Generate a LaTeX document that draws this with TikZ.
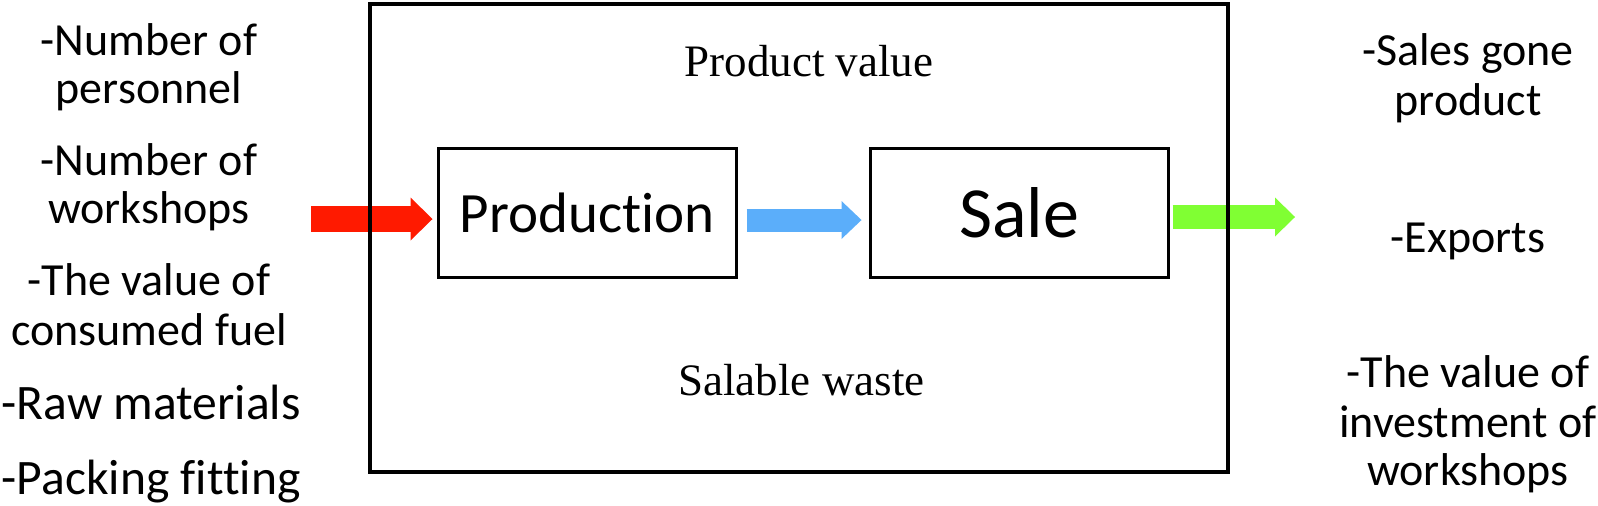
\documentclass[tikz,border=0pt]{standalone}
\usepackage{fontspec}
\setmainfont{Liberation Serif}
\newfontfamily\calfont[Ligatures=NoCommon]{Carlito}
\usetikzlibrary{arrows.meta,calc}
\definecolor{redarr}{HTML}{FF1A00}
\definecolor{bluearr}{HTML}{5BAEFA}
\definecolor{greenarr}{HTML}{80FF33}
\begin{document}
\begin{tikzpicture}[x=0.5pt,y=-0.5pt,
  lbl/.style={font=\calfont\fontsize{23}{24}\selectfont, inner sep=0pt, anchor=base},
  biglbl/.style={font=\calfont\fontsize{24.8}{26}\selectfont, inner sep=0pt, anchor=base},
  serif/.style={font=\fontsize{22.5}{24}\selectfont, inner sep=0pt, anchor=base},
  stage/.style={draw, line width=1.5pt, minimum width=149pt, minimum height=64.5pt, inner sep=0pt},
  redflow/.style={draw=redarr, line width=13pt, -{Triangle[length=11pt,width=21.5pt,line width=0pt]}},
  blueflow/.style={draw=bluearr, line width=11.5pt, -{Triangle[length=10pt,width=19pt,line width=0pt]}},
  greenflow/.style={draw=greenarr, line width=12pt, -{Triangle[length=10pt,width=19.5pt,line width=0pt]}}
]
\useasboundingbox (0,0) rectangle (1598,505);

% stages
\node[stage, font=\calfont\fontsize{28.5}{30}\selectfont] (prod) at (587,213) {Production};
\node[stage, font=\calfont\fontsize{36}{38}\selectfont] (sale) at (1019,213) {Sale};

% flows
\coordinate (rin) at (311,219);
\coordinate (gout) at (1295,217);
\draw[redflow] (rin) -- ($(rin -| prod.west)+(-4,0)$);
\draw[blueflow] ($(prod.east)+(9,7)$) -- ($(sale.west)+(-7,7)$);
\draw[greenflow] ($(gout -| sale.east)+(3,0)$) -- (gout);

% frame (over the arrows)
\draw[line width=2pt] (369.5,4) rectangle (1228,472);

% middle texts
\node[serif] (pv) at (809,76) {Product value};
\node[serif] (sw) at (801.5,395) {Salable waste};

% inputs
\node[lbl] (i1a) at (149,55) {-Number of};
\node[lbl] (i1b) at (149,103) {personnel};
\node[lbl] (i2a) at (149,175) {-Number of};
\node[lbl] (i2b) at (149,223) {workshops};
\node[lbl] (i3a) at (149,295) {-The value of};
\node[lbl] (i3b) at (149,345) {consumed fuel};
\node[biglbl] (i4) at (151,419) {-Raw materials};
\node[biglbl] (i5) at (151,494) {-Packing fitting};

% outputs
\node[lbl] (o1a) at (1468,65) {-Sales gone};
\node[lbl] (o1b) at (1468,115) {product};
\node[lbl] (o2) at (1468,252) {-Exports};
\node[lbl] (o3a) at (1468,387) {-The value of};
\node[lbl] (o3b) at (1468,437) {investment of};
\node[lbl] (o3c) at (1468,485) {workshops};
\end{tikzpicture}
\end{document}
